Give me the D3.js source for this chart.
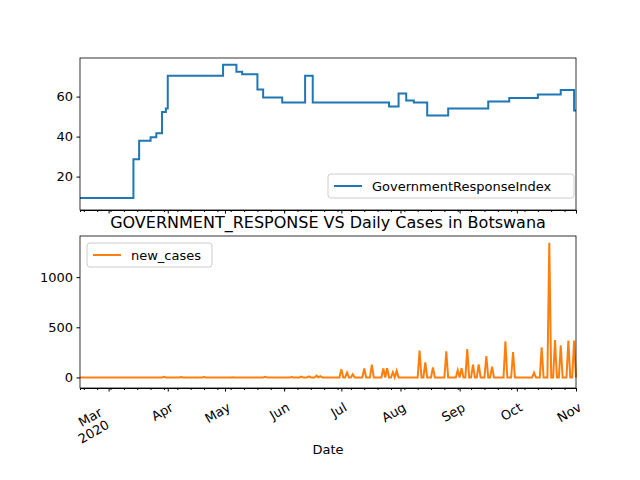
<!DOCTYPE html>
<html><head><meta charset="utf-8">
<script src="https://cdn.jsdelivr.net/npm/d3@7"></script>
<style>body{margin:0;background:#fff}text{font-family:"DejaVu Sans",sans-serif}</style>
</head><body><div id="chart"></div>
<script>
// GovernmentResponseIndex: dates where the step value changes
var griDates = ["2020-02-15","2020-03-14","2020-03-17","2020-03-23","2020-03-26","2020-03-29","2020-03-31","2020-04-01",
  "2020-04-30","2020-05-07","2020-05-10","2020-05-18","2020-05-21","2020-05-31","2020-06-12","2020-06-16",
  "2020-07-26","2020-07-31","2020-08-04","2020-08-08","2020-08-15","2020-08-26","2020-09-16","2020-09-27",
  "2020-10-12","2020-10-24","2020-10-31","2020-11-01"];
var griValues = [9.26,28.7,37.96,39.7,41.7,52.3,54.0,70.4,
  75.9,72.4,71.2,63.5,59.6,57.0,70.4,57.0,
  55.0,61.5,58.1,57.0,50.6,54.1,57.6,59.3,
  61.1,63.3,53.0,53.0];
// new_cases: days with reported cases (all other days are 0)
var caseDates = ["2020-03-30","2020-04-08","2020-04-20","2020-05-05","2020-05-22","2020-06-05","2020-06-10","2020-06-14",
  "2020-06-18","2020-06-20","2020-07-01","2020-07-04","2020-07-07","2020-07-13","2020-07-17","2020-07-23","2020-07-25",
  "2020-07-28","2020-07-30","2020-08-11","2020-08-14","2020-08-18","2020-08-25","2020-08-31","2020-09-02",
  "2020-09-05","2020-09-08","2020-09-11","2020-09-15","2020-09-18","2020-09-25","2020-09-29","2020-10-10",
  "2020-10-14","2020-10-18","2020-10-21","2020-10-24","2020-10-28","2020-10-31"];
var caseValues = [6,5,4,3,6,4,8,10,18,12,83,50,33,90,127,90,93,53,67,267,150,100,260,73,93,283,127,130,213,107,
  360,253,47,300,1343,373,320,367,367];
var griTicks = [20,40,60];
var caseTicks = [0,500,1000];
var months = ["Mar","Apr","May","Jun","Jul","Aug","Sep","Oct","Nov"];

var W = 640, H = 480, L = 80, R = 576;
var parse = d3.timeParse("%Y-%m-%d");
var start = parse("2020-02-15"), end = parse("2020-11-01");
var caseMap = {};
caseDates.forEach(function(d, i) { caseMap[d] = caseValues[i]; });
var fmt = d3.timeFormat("%Y-%m-%d");
var cases = d3.timeDay.range(start, d3.timeDay.offset(end, 1)).map(function(d) {
  return {date: d, v: caseMap[fmt(d)] || 0};
});
var gri = griDates.map(function(d, i) { return {date: parse(d), v: griValues[i]}; });

var svg = d3.select("#chart").append("svg").attr("width", W).attr("height", H);
var x = d3.scaleTime().domain([start, end]).range([L, R]);

function panel(top, bottom, domain, ticks, data, color, curve, showLabels) {
  var y = d3.scaleLinear().domain(domain).range([bottom, top]);
  var g = svg.append("g");
  g.append("path").datum(data)
    .attr("fill", "none").attr("stroke", color).attr("stroke-width", 2)
    .attr("d", d3.line().curve(curve).x(function(d) { return x(d.date); }).y(function(d) { return y(d.v); }));
  var ya = g.append("g").attr("transform", "translate(" + L + ",0)")
    .call(d3.axisLeft(y).tickValues(ticks).tickSize(3.5).tickPadding(3.5).tickFormat(d3.format("d")));
  var xMaj = d3.axisBottom(x).tickValues(months.map(function(m, i) { return new Date(2020, 2 + i, 1); }))
    .tickSize(3.5).tickFormat(showLabels ? function(d, i) { return months[i]; } : "");
  var xMin = d3.axisBottom(x).tickValues(d3.timeMonday.range(start, end)).tickSize(2).tickFormat("");
  g.append("g").attr("transform", "translate(0," + bottom + ")").call(xMin);
  var xa = g.append("g").attr("transform", "translate(0," + bottom + ")").call(xMaj);
  [ya, xa].forEach(function(a) {
    a.selectAll(".domain").remove();
    a.selectAll("text").attr("font-size", 13).attr("fill", "#000");
  });
  g.selectAll(".tick line").attr("stroke", "#000");
  if (showLabels) {
    xa.selectAll("text").attr("text-anchor", "end").attr("dy", null).attr("y", 0)
      .attr("transform", "translate(6,22) rotate(-30)");
    xa.select(".tick text").attr("transform", "translate(-6,27) rotate(-30)").each(function() {
      d3.select(this).append("tspan").attr("x", 0).attr("dy", "1.1em").text("2020");
    });
  }
  g.append("rect").attr("x", L).attr("y", top).attr("width", R - L).attr("height", bottom - top)
    .attr("fill", "none").attr("stroke", "#000").attr("stroke-width", 0.8);
  return g;
}

panel(58, 210, [3.3, 79.3], griTicks, gri, "#1f77b4", d3.curveStepAfter, false);
panel(236, 388, [-105, 1410], caseTicks, cases, "#ff7f0e", d3.curveLinear, true);

function legend(lx, ly, w, label, color) {
  svg.append("rect").attr("x", lx).attr("y", ly).attr("width", w).attr("height", 24).attr("rx", 3)
    .attr("fill", "#fff").attr("fill-opacity", 0.8).attr("stroke", "#ccc");
  svg.append("line").attr("x1", lx + 6).attr("x2", lx + 34).attr("y1", ly + 12).attr("y2", ly + 12)
    .attr("stroke", color).attr("stroke-width", 2);
  svg.append("text").attr("x", lx + 44).attr("y", ly + 16.5).attr("font-size", 13).text(label);
}
legend(328, 174, 246, "GovernmentResponseIndex", "#1f77b4");
legend(87, 243, 125, "new_cases", "#ff7f0e");

svg.append("text").attr("x", 328).attr("y", 228).attr("text-anchor", "middle").attr("font-size", 16)
  .text("GOVERNMENT_RESPONSE VS Daily Cases in Botswana");
svg.append("text").attr("x", 328).attr("y", 454).attr("text-anchor", "middle").attr("font-size", 13).text("Date");
</script></body></html>
